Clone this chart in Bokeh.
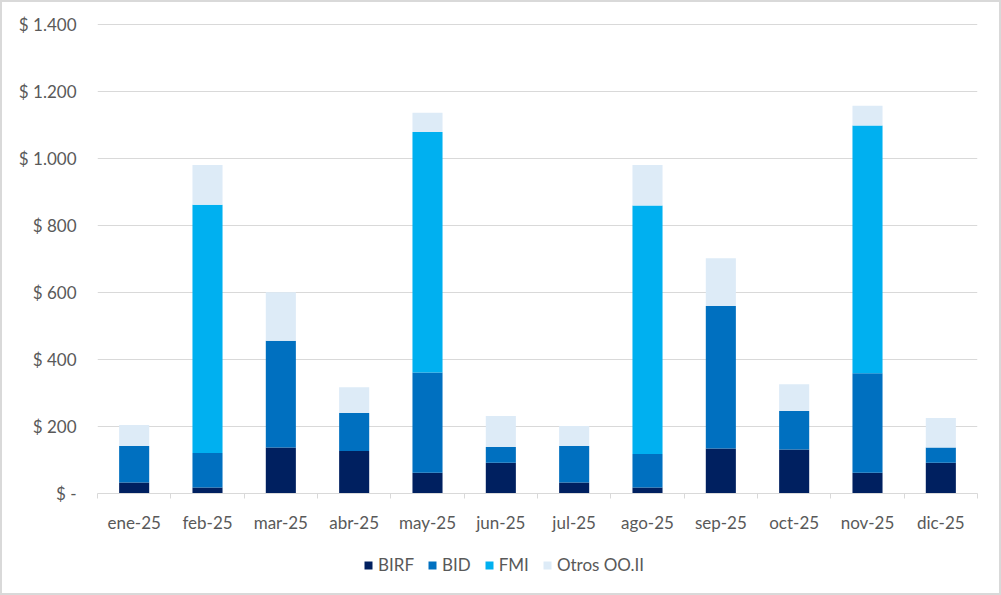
from bokeh.plotting import figure
from bokeh.layouts import column
from bokeh.models import (ColumnDataSource, FixedTicker, CustomJSTickFormatter,
                          Range1d, Legend)
from bokeh.embed import file_html
from bokeh.resources import INLINE

months = ["ene-25", "feb-25", "mar-25", "abr-25", "may-25", "jun-25",
          "jul-25", "ago-25", "sep-25", "oct-25", "nov-25", "dic-25"]
birf = [33, 18, 137, 127, 62, 92, 33, 18, 134, 131, 62, 92]
bid = [109, 103, 319, 113, 299, 47, 109, 100, 425, 115, 297, 45]
fmi = [0, 740, 0, 0, 717, 0, 0, 741, 0, 0, 739, 0]
otros = [62, 119, 144, 77, 58, 92, 59, 121, 143, 80, 59, 88]
series = ["BIRF", "BID", "FMI", "Otros OO.II"]
colors = ["#002060", "#0070C0", "#00B0F0", "#DDEBF7"]
y_ticks = [0, 200, 400, 600, 800, 1000, 1200, 1400]

FONT = "Lato"
FS = "17px"
TXT = "#595959"
GRID = "#d9d9d9"

xs = [i + 0.5 for i in range(len(months))]
src = ColumnDataSource(dict(x=xs, BIRF=birf, BID=bid, FMI=fmi, OTROS=otros))
stack_cols = ["BIRF", "BID", "FMI", "OTROS"]

p = figure(width=1001, height=535, output_backend="svg", toolbar_location=None,
           x_range=Range1d(0, len(months)), y_range=Range1d(0, 1402),
           min_border_left=97, min_border_right=24, min_border_top=23,
           min_border_bottom=38)
p.outline_line_color = None
p.border_fill_alpha = 0
p.background_fill_alpha = 0

rs = p.vbar_stack(stack_cols, x="x", width=0.41,
                  color=colors, line_color=None, source=src)

# axes
p.yaxis.ticker = FixedTicker(ticks=y_ticks)
p.yaxis.formatter = CustomJSTickFormatter(code="""
if (tick == 0) { return "$ -"; }
return "$ " + String(Math.round(tick)).replace(/\\B(?=(\\d{3})+(?!\\d))/g, ".");
""")
p.yaxis.axis_line_color = None
p.yaxis.major_tick_line_color = None
p.yaxis.minor_tick_line_color = None
p.yaxis.major_tick_out = 0
p.yaxis.major_tick_in = 0
p.yaxis.major_label_standoff = 21
p.yaxis.major_label_text_font = FONT
p.yaxis.major_label_text_font_size = FS
p.yaxis.major_label_text_color = TXT

p.xaxis.ticker = FixedTicker(ticks=xs, minor_ticks=list(range(len(months) + 1)))
p.xaxis.major_label_overrides = {x: m for x, m in zip(xs, months)}
p.xaxis.axis_line_color = GRID
p.xaxis.major_tick_line_color = None
p.xaxis.major_tick_out = 0
p.xaxis.major_tick_in = 0
p.xaxis.minor_tick_line_color = GRID
p.xaxis.minor_tick_out = 5
p.xaxis.minor_tick_in = 0
p.xaxis.major_label_standoff = 13
p.xaxis.major_label_text_font = FONT
p.xaxis.major_label_text_font_size = FS
p.xaxis.major_label_text_color = TXT

p.xgrid.grid_line_color = None
p.ygrid.grid_line_color = GRID
p.ygrid.grid_line_width = 1
p.ygrid.ticker = FixedTicker(ticks=y_ticks[1:])

# legend strip below the chart (its renderers hold the same data, hidden)
lg = figure(width=1001, height=60, output_backend="svg", toolbar_location=None,
            x_range=Range1d(0, len(months)), y_range=Range1d(0, 1402),
            min_border=0)
lg.axis.visible = False
lg.grid.grid_line_color = None
lg.outline_line_color = None
lg.border_fill_alpha = 0
lg.background_fill_alpha = 0
lrs = lg.vbar_stack(stack_cols, x="x", width=0.41,
                    color=colors, line_color=None, source=src)
for r in lrs:
    r.visible = False
legend = Legend(items=[(s, [r]) for s, r in zip(series, lrs)],
                orientation="horizontal", location=(266, 20),
                glyph_width=10, glyph_height=10, label_standoff=5, spacing=13,
                label_height=20, label_width=10,
                label_text_font=FONT, label_text_font_size=FS,
                label_text_color=TXT, border_line_color=None,
                background_fill_alpha=0, padding=0, margin=0,
                inactive_fill_alpha=0)
lg.add_layout(legend, "center")

layout = column(p, lg, styles={"outline": "2px solid #d9d9d9",
                               "outline-offset": "-2px"})
open("out.html", "w").write(file_html(layout, INLINE))
